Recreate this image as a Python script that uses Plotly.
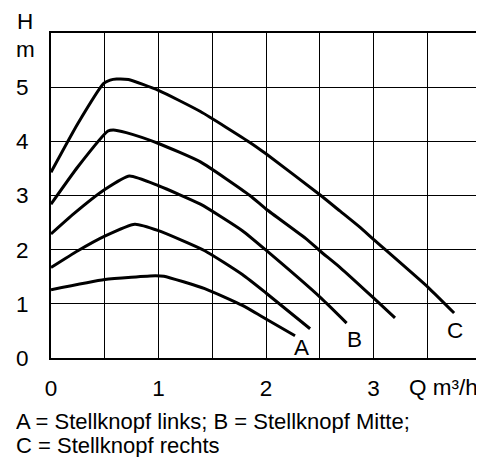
import plotly.graph_objects as go

# --- data ---
x1 = [0, 0.25, 0.49, 0.55, 0.61, 0.72, 1.0, 1.39, 1.85, 2.0, 2.51, 2.69, 2.87, 3.0, 3.51, 3.75]
y1 = [3.43, 4.33, 5.07, 5.13, 5.15, 5.14, 4.94, 4.55, 3.98, 3.77, 3.0, 2.71, 2.42, 2.19, 1.30, 0.83]

x2 = [0, 0.25, 0.53, 0.58, 0.7, 1.0, 1.39, 1.85, 2.0, 2.38, 2.5, 2.69, 3.0, 3.2]
y2 = [2.84, 3.53, 4.19, 4.21, 4.16, 3.96, 3.62, 3.0, 2.75, 2.19, 1.98, 1.67, 1.11, 0.74]

x3 = [0, 0.21, 0.5, 0.73, 1.0, 1.39, 1.78, 2.0, 2.51, 2.75]
y3 = [2.29, 2.66, 3.11, 3.36, 3.18, 2.84, 2.35, 1.99, 1.11, 0.645]

x4 = [0, 0.25, 0.5, 0.78, 1.0, 1.43, 1.78, 2.0, 2.41]
y4 = [1.67, 1.98, 2.25, 2.47, 2.35, 1.98, 1.54, 1.20, 0.54]

x5 = [0, 0.5, 0.97, 1.05, 1.43, 1.78, 2.0, 2.27]
y5 = [1.26, 1.45, 1.52, 1.51, 1.28, 0.97, 0.72, 0.41]

curves = [(x1, y1), (x2, y2), (x3, y3), (x4, y4), (x5, y5)]

xtick_vals = [0, 0.5, 1, 1.5, 2, 2.5, 3, 3.5, 4]
xtick_text = ["0", "", "1", "", "2", "", "3", "", ""]
ytick_vals = [0, 1, 2, 3, 4, 5, 6]
ytick_text = ["0", "1", "2", "3", "4", "5", ""]

curve_labels = ["A", "B", "C"]
curve_label_x = [2.33, 2.82, 3.76]
curve_label_y = [0.2, 0.35, 0.5]

footer1 = "A = Stellknopf links; B = Stellknopf Mitte;"
footer2 = "C = Stellknopf rechts"

FONT = "Liberation Sans, Arial, sans-serif"
FS = 22.5
FS_FOOT = 22

fig = go.Figure()
for cx, cy in curves:
    fig.add_trace(go.Scatter(x=cx, y=cy, mode="lines",
                             line=dict(color="black", width=3, shape="spline", smoothing=0.5),
                             showlegend=False, hoverinfo="skip"))

for t, lx, ly in zip(curve_labels, curve_label_x, curve_label_y):
    fig.add_annotation(x=lx, y=ly, xref="x", yref="y", text=t, showarrow=False,
                       font=dict(size=FS, color="black", family=FONT))

fig.add_annotation(x=3.65, y=-0.092, xref="x", yref="paper", text="Q m³/h",
                   showarrow=False, yanchor="middle",
                   font=dict(size=FS, color="black", family=FONT))
fig.add_annotation(x=-0.06, y=1.035, xref="paper", yref="paper", text="H",
                   showarrow=False, yanchor="middle", xanchor="center",
                   font=dict(size=FS, color="black", family=FONT))
fig.add_annotation(x=-0.06, y=0.95, xref="paper", yref="paper", text="m",
                   showarrow=False, yanchor="middle", xanchor="center",
                   font=dict(size=FS, color="black", family=FONT))
fig.add_annotation(x=-0.086, y=-0.194, xref="paper", yref="paper", text=footer1,
                   showarrow=False, xanchor="left", yanchor="middle", height=23,
                   font=dict(size=FS_FOOT, color="black", family=FONT))
fig.add_annotation(x=-0.086, y=-0.268, xref="paper", yref="paper", text=footer2,
                   showarrow=False, xanchor="left", yanchor="middle", height=23,
                   font=dict(size=FS_FOOT, color="black", family=FONT))

fig.update_xaxes(range=[0, 4], tickvals=xtick_vals, ticktext=xtick_text,
                 showgrid=True, gridcolor="black", gridwidth=1,
                 showline=True, linecolor="black", linewidth=2, mirror=True,
                 ticks="", ticklabelstandoff=9, zeroline=False, automargin=False,
                 tickfont=dict(size=FS, color="black", family=FONT))
fig.update_yaxes(range=[0, 6], tickvals=ytick_vals, ticktext=ytick_text,
                 showgrid=True, gridcolor="black", gridwidth=1,
                 showline=True, linecolor="black", linewidth=2, mirror=True,
                 ticks="", ticklabelstandoff=16, zeroline=False, automargin=False,
                 tickfont=dict(size=FS, color="black", family=FONT))

# page body adds an 8px offset, so margins are shifted accordingly
fig.update_layout(width=484, height=459,
                  margin=dict(l=43, r=11, t=25, b=109, autoexpand=False),
                  plot_bgcolor="white", paper_bgcolor="white",
                  font=dict(family=FONT, color="black"))

fig.write_html("out.html")
